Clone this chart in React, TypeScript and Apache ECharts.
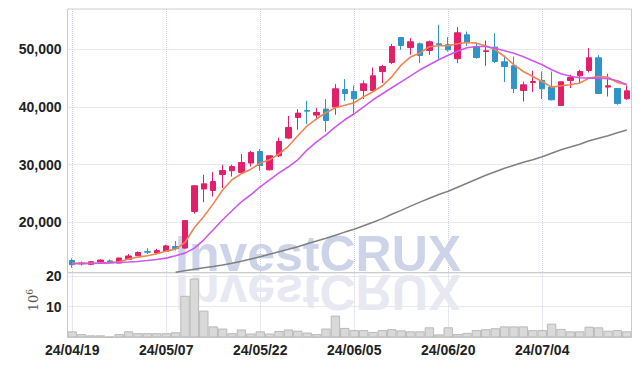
import React, { useEffect, useRef } from 'react';
import * as echarts from 'echarts';

const dates = [
  '24/04/19', '24/04/22', '24/04/23', '24/04/24', '24/04/25', '24/04/26', '24/04/29', '24/04/30', '24/05/02', '24/05/03',
  '24/05/07', '24/05/08', '24/05/09', '24/05/10', '24/05/13', '24/05/14', '24/05/16', '24/05/17', '24/05/20', '24/05/21',
  '24/05/22', '24/05/23', '24/05/24', '24/05/27', '24/05/28', '24/05/29', '24/05/30', '24/05/31', '24/06/03', '24/06/04',
  '24/06/05', '24/06/07', '24/06/10', '24/06/11', '24/06/12', '24/06/13', '24/06/14', '24/06/17', '24/06/18', '24/06/19',
  '24/06/20', '24/06/21', '24/06/24', '24/06/25', '24/06/26', '24/06/27', '24/06/28', '24/07/01', '24/07/02', '24/07/03',
  '24/07/04', '24/07/05', '24/07/08', '24/07/09', '24/07/10', '24/07/11', '24/07/12', '24/07/15', '24/07/16', '24/07/17',
];

const opens = [
  13370, 12800, 12700, 13090, 13300, 12920, 13550, 14200, 14900, 14650,
  14950, 15800, 15520, 21880, 25780, 25520, 28300, 28940, 28650, 30280,
  32290, 29120, 31550, 34620, 38190, 39400, 38610, 39650, 40000, 43060,
  42710, 42880, 42880, 46180, 47740, 52080, 50350, 50990, 49830, 50990,
  50820, 48390, 52550, 50520, 49650, 50410, 47860, 47170, 42880, 44270,
  44620, 43470, 40280, 44620, 45430, 46350, 48560, 43470, 43230, 41440,
];
const closes = [
  12650, 12950, 13150, 13440, 13100, 13790, 14150, 14750, 14800, 15100,
  15900, 15450, 20300, 26340, 26680, 27090, 28990, 29690, 30380, 32120,
  29860, 31550, 34030, 36460, 38960, 39300, 39060, 37670, 43180, 42360,
  41440, 44050, 45430, 47050, 50520, 50690, 51340, 48960, 51340, 50820,
  49950, 52900, 51210, 48610, 49770, 47920, 47050, 43230, 43870, 44440,
  43180, 41270, 44390, 45140, 46180, 48560, 42360, 43700, 40630, 42830,
];
const lows = [
  12100, 12500, 12550, 13050, 12900, 12900, 13450, 14150, 14500, 14450,
  14800, 15100, 15400, 21500, 23500, 24480, 25940, 27950, 28420, 29690,
  28940, 28990, 31320, 34440, 36060, 37050, 37800, 35710, 38660, 41090,
  38840, 41390, 42710, 44170, 47460, 49950, 49080, 47640, 49080, 48210,
  49650, 47640, 50640, 48390, 47170, 47640, 44340, 42430, 40970, 42600,
  41390, 41150, 40280, 43300, 44170, 46010, 42260, 41840, 40400, 41270,
];
const highs = [
  13750, 13200, 13300, 13600, 13550, 13900, 14500, 14950, 15500, 15400,
  16100, 16750, 20350, 26400, 28250, 28710, 29980, 30000, 31840, 32410,
  32710, 31550, 34720, 38490, 39650, 41090, 39830, 41390, 43990, 44860,
  43750, 44620, 46870, 47340, 50990, 52080, 51980, 51210, 51560, 54290,
  52150, 53890, 53120, 51210, 51560, 52850, 48780, 48780, 44440, 46300,
  46180, 46180, 44440, 45610, 46470, 50240, 49030, 45780, 43230, 43700,
];

const ma5 = [
  12920, 12900, 12880, 12920, 13000, 13140, 13610, 13960, 14190, 14530,
  15000, 15350, 16490, 19100, 21000, 23200, 25600, 27400, 28420, 29200,
  30280, 30850, 31890, 33190, 35020, 36750, 37970, 39010, 39880, 40310,
  40750, 41790, 42660, 43700, 45260, 47300, 48700, 49400, 50470, 50640,
  50640, 50990, 51210, 51100, 50640, 49950, 48780, 47340, 46180, 45310,
  44440, 43470, 43700, 43870, 44170, 45030, 45310, 45210, 44270, 43870,
];
const ma20 = [
  12800, 12820, 12850, 12900, 12950, 13020, 13100, 13200, 13370, 13550,
  13780, 14190, 14650, 15520, 16960, 18700, 20440, 22000, 23560, 24780,
  26160, 27380, 28590, 29640, 30850, 32590, 33980, 35190, 36580, 37800,
  38840, 40050, 41270, 42310, 43350, 44390, 45430, 46470, 47340, 48210,
  48990, 49690, 50290, 50520, 50520, 50210, 49770, 49340, 48730, 48040,
  47340, 46470, 45780, 45350, 45090, 45030, 45030, 44910, 44570, 43870,
];
const ma60 = [
  null, null, null, null, null, null, null, null, null, null,
  null, 11320, 11580, 11840, 12100, 12310, 12590, 12880, 13230, 13630,
  14010, 14450, 14880, 15310, 15750, 16270, 16740, 17220, 17740, 18300,
  18790, 19390, 20000, 20640, 21390, 22080, 22810, 23510, 24170, 24830,
  25380, 26080, 26770, 27470, 28160, 28770, 29380, 29900, 30420, 30850,
  31370, 31980, 32590, 33060, 33540, 34150, 34580, 35020, 35540, 36010,
];

// volume in millions of shares
const volumes = [
  2.0, 1.1, 0.7, 0.7, 0.3, 1.1, 2.0, 1.4, 1.4, 1.4,
  1.4, 1.7, 13.5, 19.1, 8.7, 3.6, 2.9, 1.4, 2.6, 1.3,
  2.0, 1.3, 2.1, 2.6, 2.2, 1.6, 1.1, 2.9, 7.1, 3.1,
  2.4, 2.4, 1.8, 2.4, 2.7, 2.3, 2.0, 2.0, 3.3, 1.0,
  3.3, 1.1, 1.5, 2.4, 2.7, 3.0, 3.6, 3.6, 3.6, 2.4,
  2.4, 4.5, 2.8, 2.0, 2.0, 3.5, 3.3, 2.2, 2.4, 2.0,
];

const UP = '#e31f6a';
const DOWN = '#2f95c8';

export default function App() {
  const ref = useRef<HTMLDivElement>(null);
  useEffect(() => {
    const chart = echarts.init(ref.current!, null, { renderer: 'svg' });
    const labelFont = {
      fontFamily: '"Liberation Sans", Arial, sans-serif',
      fontWeight: 'bold',
      fontSize: 14,
      color: '#222',
    };
    const dotted = { lineStyle: { color: '#cfd0e2', type: 'dotted', width: 1 } };
    const ohlc = dates.map((_, i) => [opens[i], closes[i], lows[i], highs[i]]);
    const wmFont = { fontFamily: '"Liberation Sans", Arial, sans-serif', fontWeight: 'bold', fontSize: 50 };
    chart.setOption({
      animation: false,
      grid: [
        { left: 67.5, right: 10.5, top: 9, height: 263.7, show: true, borderColor: '#cccccc', borderWidth: 1, backgroundColor: 'transparent' },
        { left: 67.5, right: 10.5, top: 272.7, height: 64.8, show: true, borderColor: '#cccccc', borderWidth: 1, backgroundColor: 'transparent' },
      ],
      xAxis: [
        {
          type: 'category', gridIndex: 0, data: dates, boundaryGap: true,
          axisLine: { show: false }, axisTick: { show: false }, axisLabel: { show: false },
          splitLine: { show: true, interval: 9, alignWithLabel: true, ...dotted },
        },
        {
          type: 'category', gridIndex: 1, data: dates, boundaryGap: true,
          axisLine: { show: false }, axisTick: { show: false },
          axisLabel: { ...labelFont, interval: 9, margin: 5 },
          splitLine: { show: true, interval: 9, alignWithLabel: true, ...dotted },
        },
      ],
      yAxis: [
        {
          type: 'value', gridIndex: 0, min: 11250, max: 57030, splitNumber: 5, scale: true,
          axisLine: { show: false }, axisTick: { show: false },
          axisLabel: {
            ...labelFont, margin: 6, showMinLabel: false, showMaxLabel: false,
            formatter: (v: number) => (v % 10000 === 0 ? v.toLocaleString('en-US') : ''),
          },
          splitLine: { show: true, showMinLine: false, showMaxLine: false, ...dotted },
        },
        {
          type: 'value', gridIndex: 1, min: 0, max: 21, interval: 10,
          axisLine: { show: false }, axisTick: { show: false },
          axisLabel: {
            ...labelFont, margin: 6, showMaxLabel: false,
            formatter: (v: number) => (v === 0 || v === 21 ? '' : String(v)),
          },
          splitLine: { show: true, showMinLine: false, showMaxLine: false, ...dotted },
        },
      ],
      graphic: {
        elements: [
          {
            type: 'text', x: 175, y: 253.5, z: 1, silent: true,
            style: { text: 'InvestCRUX', ...wmFont, fill: '#cdd3e8', align: 'left', verticalAlign: 'middle' },
          },
          {
            type: 'text', x: 175, y: 291.9, scaleY: -1, z: 1, silent: true,
            style: { text: 'InvestCRUX', ...wmFont, fill: '#e7e8f2', align: 'left', verticalAlign: 'middle' },
          },
          {
            type: 'group', x: 33, y: 303, rotation: Math.PI / 2, z: 5,
            children: [
              { type: 'text', x: 0, y: 0, style: { text: '10', fontFamily: '"DejaVu Serif", serif', fontSize: 13, fill: '#555', align: 'center', verticalAlign: 'middle' } },
              { type: 'text', x: 11, y: -3, style: { text: '6', fontFamily: '"DejaVu Serif", serif', fontSize: 9, fill: '#555', align: 'center', verticalAlign: 'middle' } },
            ],
          },
        ],
      },
      series: [
        {
          name: 'MA60', type: 'line', xAxisIndex: 0, yAxisIndex: 0, data: ma60, symbol: 'none', z: 3,
          lineStyle: { color: '#808080', width: 1.5 },
        },
        {
          name: 'Price', type: 'candlestick', xAxisIndex: 0, yAxisIndex: 0, data: ohlc, barWidth: '64%', z: 4,
          itemStyle: { color: UP, color0: DOWN, borderColor: UP, borderColor0: DOWN, borderWidth: 1 },
        },
        {
          name: 'MA5', type: 'line', xAxisIndex: 0, yAxisIndex: 0, data: ma5, symbol: 'none', z: 5,
          lineStyle: { color: '#ef8550', width: 1.6 },
        },
        {
          name: 'MA20', type: 'line', xAxisIndex: 0, yAxisIndex: 0, data: ma20, symbol: 'none', z: 5,
          lineStyle: { color: '#cf58ec', width: 1.6 },
        },
        {
          name: 'Volume', type: 'bar', xAxisIndex: 1, yAxisIndex: 1, data: volumes, barWidth: '100%', z: 3,
          itemStyle: { color: '#d9d9d9', borderColor: '#b9b9b9', borderWidth: 1 },
        },
      ],
    });
    return () => chart.dispose();
  }, []);
  return <div ref={ref} style={{ position: 'absolute', left: 0, top: 0, width: 642, height: 366 }} />;
}
